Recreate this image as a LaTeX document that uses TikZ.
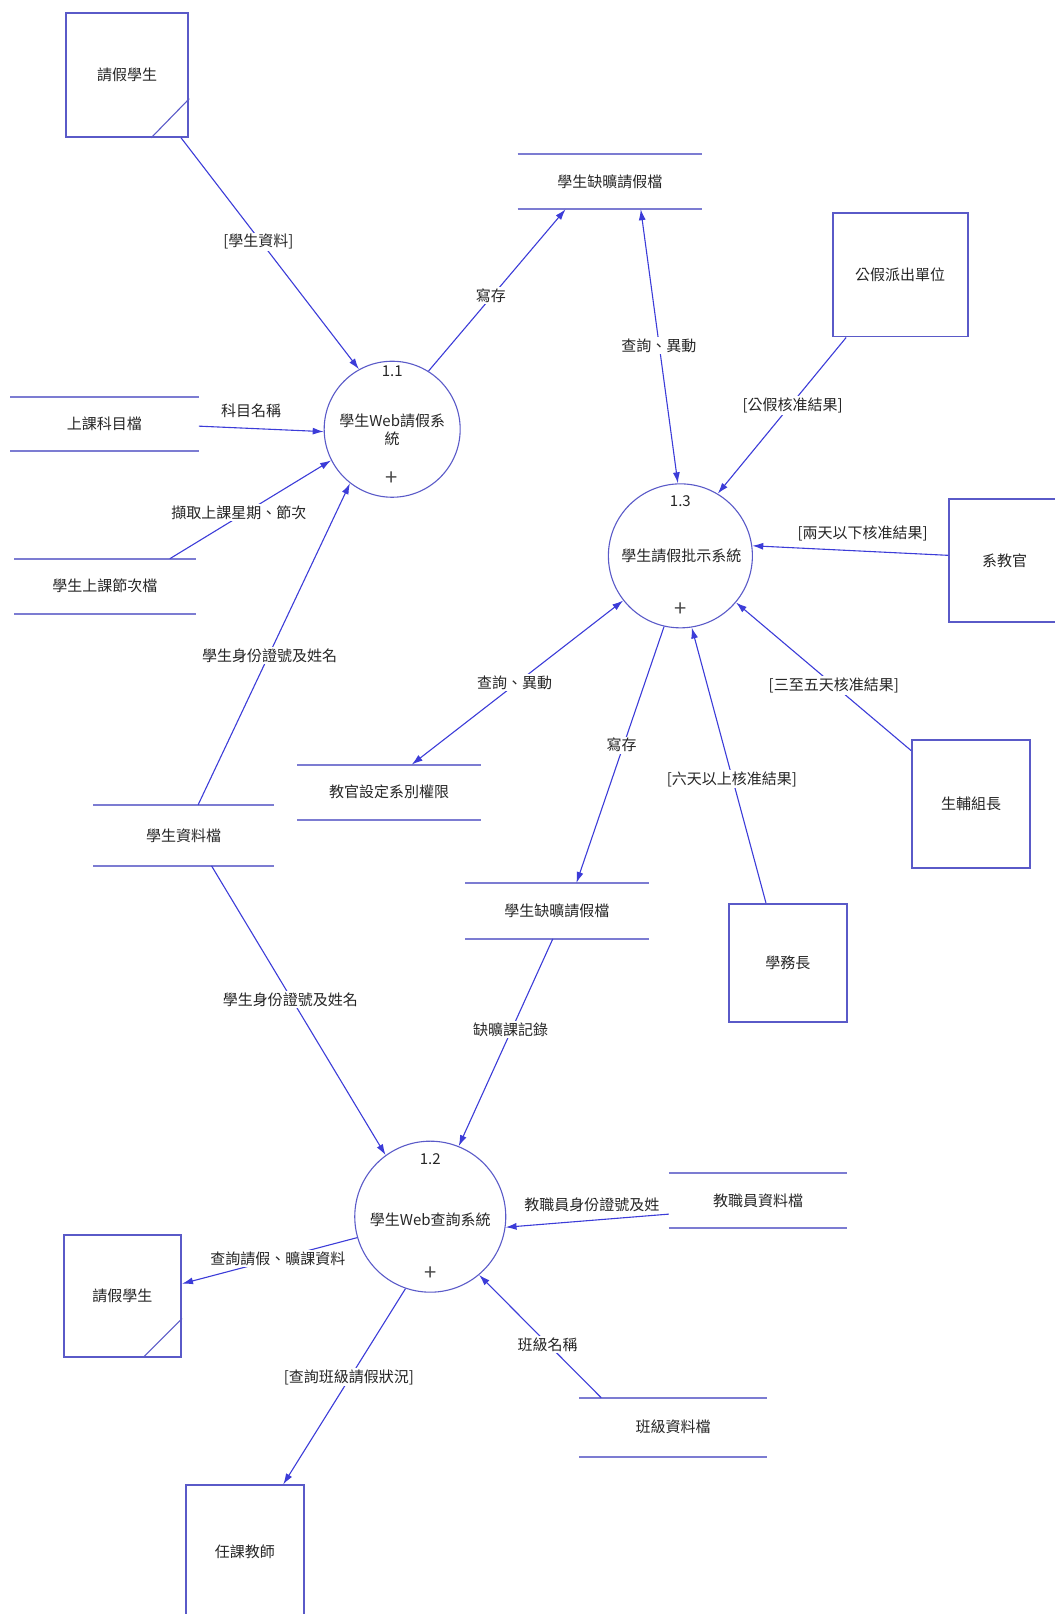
\documentclass[tikz,border=0pt]{standalone}
\usepackage{fontspec}
\setmainfont{Noto Sans CJK TC}
\usetikzlibrary{arrows.meta,calc}
\definecolor{boxc}{HTML}{5A5AC8}
\definecolor{storec}{HTML}{7C7CD2}
\definecolor{flowc}{HTML}{3C3CD8}
\begin{document}
\begin{tikzpicture}[x=1.0293pt,y=-1.0293pt,
  every node/.style={font=\fontsize{15}{18}\selectfont,text=black!85},
  entity/.style={draw=boxc,line width=1.8pt,inner sep=0pt},
  store/.style={inner sep=0pt},
  storeline/.style={draw=storec,line width=2pt},
  proc/.style={draw=boxc,line width=1.1pt,circle,inner sep=0pt},
  plus/.style={font=\fontsize{22}{22}\selectfont,text=black!70},
  flow/.style={draw=flowc,line width=1.1pt,-{Latex[length=11pt,width=7pt]}},
  flow2/.style={draw=flowc,line width=1.1pt,{Latex[length=11pt,width=7pt]}-{Latex[length=11pt,width=7pt]}},
  lbl/.style={fill=white,inner sep=1.5pt}]
\useasboundingbox (0,0) rectangle (1024,1568);

% entities
\node[entity,minimum width=122.5pt,minimum height=123.5pt] (e1) at (123.5,73) {請假學生};
\node[entity,minimum width=135pt,minimum height=123.5pt] (e2) at (874.5,267) {公假派出單位};
\node[entity,minimum width=111pt,minimum height=122.5pt] (e3) at (976,544.5) {系教官};
\node[entity,minimum width=118.4pt,minimum height=118.4pt] (e4) at (765.5,935.5) {學務長};
\node[entity,minimum width=118.4pt,minimum height=127.6pt] (e5) at (943.5,781) {生輔組長};
\node[entity,minimum width=117.3pt,minimum height=121.5pt] (e6) at (119,1259) {請假學生};
\node[entity,minimum width=117.3pt,minimum height=133.8pt] (e7) at (238,1508) {任課教師};
\draw[boxc,line width=1.1pt] ($(e1.south east)+(-37,0)$) -- ($(e1.south east)+(0,-38)$);
\draw[boxc,line width=1.1pt] ($(e6.south east)+(-38,0)$) -- ($(e6.south east)+(0,-38)$);

% stores
\node[store,minimum width=184.2pt,minimum height=54.6pt] (st1) at (592.5,176.5) {學生缺曠請假檔};
\node[store,minimum width=188.4pt,minimum height=53.5pt] (st2) at (101.5,412) {上課科目檔};
\node[store,minimum width=181.2pt,minimum height=54.6pt] (st3) at (102,569.5) {學生上課節次檔};
\node[store,minimum width=180.1pt,minimum height=60.7pt] (st4) at (178.5,811.5) {學生資料檔};
\node[store,minimum width=183.2pt,minimum height=54.6pt] (st5) at (378,769.5) {教官設定系別權限};
\node[store,minimum width=183.2pt,minimum height=55.6pt] (st6) at (541,885) {學生缺曠請假檔};
\node[store,minimum width=178pt,minimum height=54.6pt] (st7) at (736.5,1166.5) {教職員資料檔};
\node[store,minimum width=187.3pt,minimum height=58.7pt] (st8) at (654,1386.5) {班級資料檔};
\foreach \s in {st1,st2,st3,st4,st5,st6,st7,st8} {
  \draw[storeline] (\s.north west) -- (\s.north east) (\s.south west) -- (\s.south east);
}

% processes
\node[proc,minimum size=136pt] (p11) at (381,417) {};
\node (p11n) at (381,361) {1.1};
\node[align=center] (p11t) at (381,418) {學生Web請假系\\統};
\node[plus] (p11p) at (380,465) {+};
\node[proc,minimum size=144pt] (p13) at (661,540) {};
\node (p13n) at (661,487) {1.3};
\node (p13t) at (662,540) {學生請假批示系統};
\node[plus] (p13p) at (661,592) {+};
\node[proc,minimum size=151pt] (p12) at (418,1182) {};
\node (p12n) at (418,1126) {1.2};
\node (p12t) at (418,1185) {學生Web查詢系統};
\node[plus] (p12p) at (418,1237) {+};

% flows
\draw[flow] ($(e1.south east)+(-8,0)$) -- (p11.119);
\draw[flow] (p11.58) -- ($(st1.south)+(-43,0)$);
\draw[flow2] ($(st1.south)+(30,0)$) -- (p13.92);
\draw[flow] ($(e2.south west)+(14,0)$) -- (p13.59);
\draw[flow] ($(st2.east)+(0,2)$) -- (p11.182);
\draw[flow] ($(st3.north)+(63,0)$) -- (p11.207);
\draw[flow] ($(st4.north)+(14,0)$) -- (p11.232);
\draw[flow] ($(e3.west)+(0,-5)$) -- (p13.8);
\draw[flow2] (p13.218) -- ($(st5.north)+(22,0)$);
\draw[flow] (p13.257) -- ($(st6.north)+(19,0)$);
\draw[flow] ($(e4.north west)+(37,0)$) -- (p13.279);
\draw[flow] ($(e5.north west)+(0,11)$) -- (p13.320);
\draw[flow] ($(st4.south)+(27,0)$) -- (p12.126);
\draw[flow] ($(st6.south)+(-4,0)$) -- (p12.68);
\draw[flow] ($(st7.west)+(0,13)$) -- (p12.352);
\draw[flow] (p12.196) -- ($(e6.north east)+(0,48)$);
\draw[flow] (p12.251) -- ($(e7.north west)+(95,0)$);
\draw[flow] ($(st8.north)+(-70,0)$) -- (p12.310);

% flow labels
\node[lbl] (l1) at (251,235) {[學生資料]};
\node[lbl] (l2) at (477,287) {寫存};
\node[lbl] (l3) at (640,336) {查詢、異動};
\node[lbl] (l4) at (770,394) {[公假核准結果]};
\node[lbl] (l5) at (244,399) {科目名稱};
\node[lbl] (l6) at (232,498) {擷取上課星期、節次};
\node[lbl] (l7) at (262,637) {學生身份證號及姓名};
\node[lbl] (l8) at (838,518) {[兩天以下核准結果]};
\node[lbl] (l9) at (500,663) {查詢、異動};
\node[lbl] (l10) at (604,724) {寫存};
\node[lbl] (l11) at (711,757) {[六天以上核准結果]};
\node[lbl] (l12) at (810,666) {[三至五天核准結果]};
\node[lbl] (l13) at (282,971) {學生身份證號及姓名};
\node[lbl] (l14) at (496,1000) {缺曠課記錄};
\node[lbl] (l15) at (575,1170) {教職員身份證號及姓};
\node[lbl] (l16) at (270,1223) {查詢請假、曠課資料};
\node[lbl] (l17) at (339,1338) {[查詢班級請假狀況]};
\node[lbl] (l18) at (532,1306) {班級名稱};
\end{tikzpicture}
\end{document}
